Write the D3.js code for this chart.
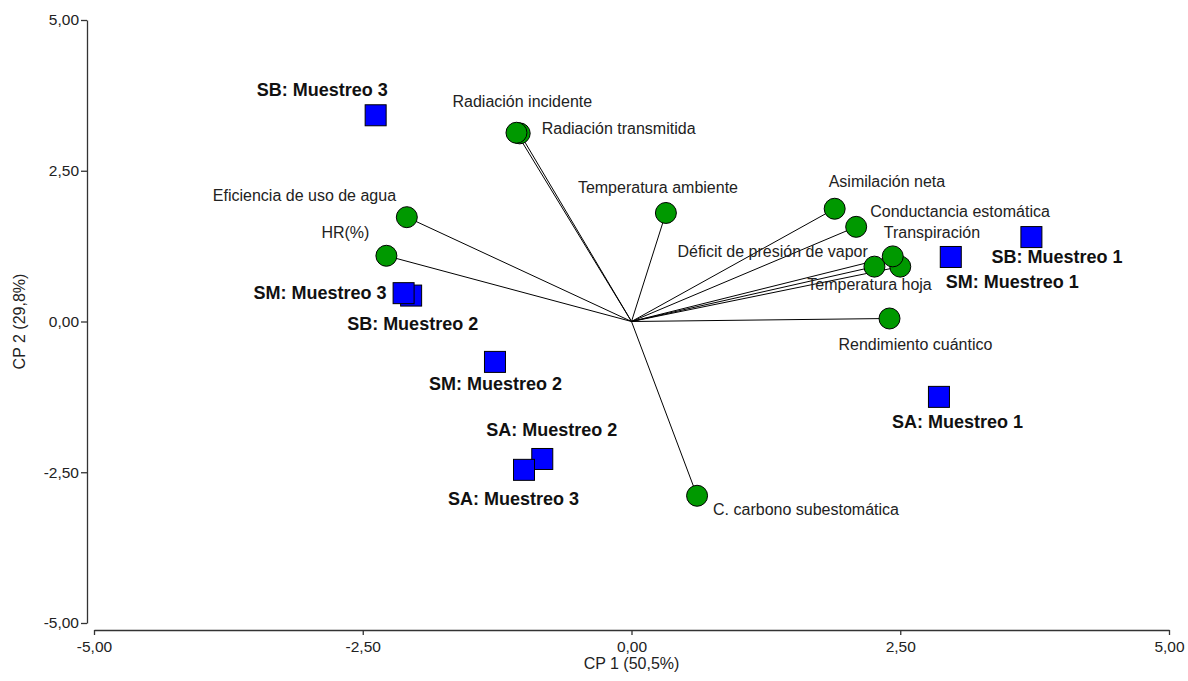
<!DOCTYPE html>
<html>
<head>
<meta charset="utf-8">
<script src="https://cdn.jsdelivr.net/npm/d3@7"></script>
<style>
  html, body { margin: 0; padding: 0; background: #fff; }
  svg { display: block; font-family: "Liberation Sans", Arial, sans-serif; }
</style>
</head>
<body>
<svg id="chart" width="1188" height="681"></svg>
<script>
// Variable loadings (CP 1, CP 2), drawn as vectors from the origin
const varNames = [
  "Radiación transmitida", "Radiación incidente", "Temperatura ambiente",
  "Eficiencia de uso de agua", "HR(%)", "Asimilación neta",
  "Conductancia estomática", "Déficit de presión de vapor", "Temperatura hoja",
  "Transpiración", "Rendimiento cuántico", "C. carbono subestomática"
];
const varPC1 = [-1.04, -1.07, 0.32, -2.09, -2.28, 1.89, 2.09, 2.26, 2.50, 2.43, 2.40, 0.61];
const varPC2 = [ 3.12,  3.13, 1.80,  1.73,  1.09, 1.87, 1.57, 0.91, 0.91, 1.08, 0.05, -2.89];

// Sample scores (CP 1, CP 2)
const sampleNames = [
  "SB: Muestreo 3", "SB: Muestreo 2", "SM: Muestreo 3", "SM: Muestreo 2",
  "SA: Muestreo 2", "SA: Muestreo 3", "SB: Muestreo 1", "SM: Muestreo 1", "SA: Muestreo 1"
];
const samplePC1 = [-2.38, -2.05, -2.12, -1.27, -0.83, -1.00, 3.72, 2.97, 2.86];
const samplePC2 = [ 3.42,  0.43,  0.47, -0.67, -2.28, -2.46, 1.40, 1.07, -1.25];

// Axis ticks
const tickValues = [-5, -2.5, 0, 2.5, 5];
const xTitle = "CP 1 (50,5%)";
const yTitle = "CP 2 (29,8%)";

// Label placement: pixel offsets of each label's start/baseline from its mark
const varLabelOffset = [
  [22, 1], [-64, -26], [-88, -20], [-194, -16], [-65, -18], [-6, -22],
  [14, -10], [-197, -10], [-93, 23], [-9, -18], [-51, 32], [16, 19]
];
const sampleLabelOffset = [
  [-119, -19], [-64, 34.5], [-150, 6], [-66, 28], [-56, -23],
  [-76, 35.5], [-40, 26], [-5, 31], [-47, 31.6]
];

const svg = d3.select("#chart");
// Decimal comma and a plain hyphen for negatives
const fmt = v => d3.format(".2f")(v).replace(".", ",").replace("\u2212", "-");

const x = d3.scaleLinear().domain([-5, 5]).range([94, 1169]);
const y = d3.scaleLinear().domain([-5, 5]).range([623, 20]);
const yAxisX = 87;
const xAxisY = 630;

// Axes
const xAxis = svg.append("g")
  .attr("transform", `translate(0,${xAxisY})`)
  .call(d3.axisBottom(x).tickValues(tickValues).tickFormat(fmt).tickSize(5).tickSizeOuter(0));
const yAxis = svg.append("g")
  .attr("transform", `translate(${yAxisX},0)`)
  .call(d3.axisLeft(y).tickValues(tickValues).tickFormat(fmt).tickSize(6).tickSizeOuter(0));

[xAxis, yAxis].forEach(ax => {
  ax.attr("font-size", null).attr("font-family", null);
  ax.select(".domain").attr("stroke", "#333").attr("stroke-width", 1.3);
  ax.selectAll(".tick line").attr("stroke", "#333").attr("stroke-width", 1.3);
  ax.selectAll(".tick text")
    .attr("fill", "#222")
    .style("font-size", "15.5px");
});
xAxis.selectAll(".tick text").attr("dy", null).attr("y", 22);
yAxis.selectAll(".tick text").attr("x", -8);

// Axis titles
svg.append("text")
  .attr("x", x(0)).attr("y", 669)
  .attr("text-anchor", "middle")
  .attr("font-size", 16).attr("fill", "#222")
  .text(xTitle);
svg.append("text")
  .attr("transform", `translate(25,${y(0)}) rotate(-90)`)
  .attr("text-anchor", "middle")
  .attr("font-size", 16).attr("fill", "#222")
  .text(yTitle);

// Loading vectors
const vars = varNames.map((n, i) => ({ name: n, pc1: varPC1[i], pc2: varPC2[i], off: varLabelOffset[i] }));
svg.append("g").selectAll("line")
  .data(vars).join("line")
  .attr("x1", x(0)).attr("y1", y(0))
  .attr("x2", d => x(d.pc1)).attr("y2", d => y(d.pc2))
  .attr("stroke", "#000").attr("stroke-width", 1);

svg.append("g").selectAll("circle")
  .data(vars).join("circle")
  .attr("cx", d => x(d.pc1)).attr("cy", d => y(d.pc2))
  .attr("r", 10.5)
  .attr("fill", "#009900").attr("stroke", "#000").attr("stroke-width", 1);

svg.append("g").selectAll("text")
  .data(vars).join("text")
  .attr("x", d => x(d.pc1) + d.off[0])
  .attr("y", d => y(d.pc2) + d.off[1])
  .attr("font-size", 16).attr("fill", "#222")
  .text(d => d.name);

// Sample scores
const samples = sampleNames.map((n, i) => ({ name: n, pc1: samplePC1[i], pc2: samplePC2[i], off: sampleLabelOffset[i] }));
const sq = 21;
svg.append("g").selectAll("rect")
  .data(samples).join("rect")
  .attr("x", d => x(d.pc1) - sq / 2).attr("y", d => y(d.pc2) - sq / 2)
  .attr("width", sq).attr("height", sq)
  .attr("fill", "#0000ff").attr("stroke", "#000").attr("stroke-width", 1);

svg.append("g").selectAll("text")
  .data(samples).join("text")
  .attr("x", d => x(d.pc1) + d.off[0])
  .attr("y", d => y(d.pc2) + d.off[1])
  .attr("font-size", 18).attr("font-weight", "bold").attr("fill", "#111")
  .text(d => d.name);
</script>
</body>
</html>
